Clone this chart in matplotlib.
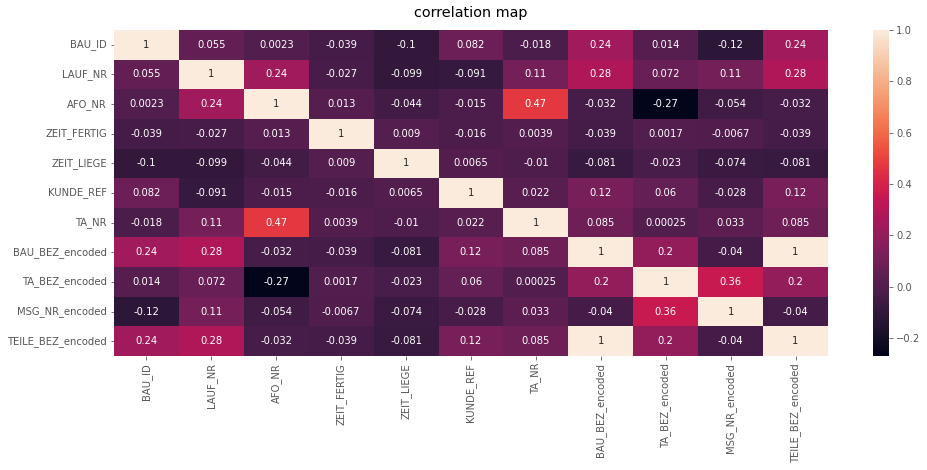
import matplotlib
matplotlib.use('Agg')
import matplotlib.pyplot as plt
import seaborn as sns
import pandas as pd

plt.style.use('ggplot')

labels = ['BAU_ID', 'LAUF_NR', 'AFO_NR', 'ZEIT_FERTIG', 'ZEIT_LIEGE', 'KUNDE_REF', 'TA_NR',
          'BAU_BEZ_encoded', 'TA_BEZ_encoded', 'MSG_NR_encoded', 'TEILE_BEZ_encoded']

bau_id = [1, 0.055, 0.0023, -0.039, -0.1, 0.082, -0.018, 0.24, 0.014, -0.12, 0.24]
lauf_nr = [0.055, 1, 0.24, -0.027, -0.099, -0.091, 0.11, 0.28, 0.072, 0.11, 0.28]
afo_nr = [0.0023, 0.24, 1, 0.013, -0.044, -0.015, 0.47, -0.032, -0.27, -0.054, -0.032]
zeit_fertig = [-0.039, -0.027, 0.013, 1, 0.009, -0.016, 0.0039, -0.039, 0.0017, -0.0067, -0.039]
zeit_liege = [-0.1, -0.099, -0.044, 0.009, 1, 0.0065, -0.01, -0.081, -0.023, -0.074, -0.081]
kunde_ref = [0.082, -0.091, -0.015, -0.016, 0.0065, 1, 0.022, 0.12, 0.06, -0.028, 0.12]
ta_nr = [-0.018, 0.11, 0.47, 0.0039, -0.01, 0.022, 1, 0.085, 0.00025, 0.033, 0.085]
bau_bez = [0.24, 0.28, -0.032, -0.039, -0.081, 0.12, 0.085, 1, 0.2, -0.04, 1]
ta_bez = [0.014, 0.072, -0.27, 0.0017, -0.023, 0.06, 0.00025, 0.2, 1, 0.36, 0.2]
msg_nr = [-0.12, 0.11, -0.054, -0.0067, -0.074, -0.028, 0.033, -0.04, 0.36, 1, -0.04]
teile_bez = [0.24, 0.28, -0.032, -0.039, -0.081, 0.12, 0.085, 1, 0.2, -0.04, 1]

corr = pd.DataFrame([bau_id, lauf_nr, afo_nr, zeit_fertig, zeit_liege, kunde_ref, ta_nr,
                     bau_bez, ta_bez, msg_nr, teile_bez], index=labels, columns=labels)

W, H = 927, 470
fig = plt.figure(figsize=(W / 72, H / 72), dpi=72, facecolor='white')
ax = fig.add_axes([114 / W, 1 - 356 / H, 714 / W, 326 / H])
cax = fig.add_axes([873 / W, 1 - 356 / H, 16 / W, 326 / H])

sns.heatmap(corr, annot=True, ax=ax, cbar_ax=cax, annot_kws={'size': 10})
ax.grid(False)
cax.grid(False)
ax.tick_params(axis='both', labelsize=10, colors='#555555')
cax.tick_params(labelsize=10, colors='#555555')
plt.setp(ax.get_xticklabels(), rotation=90)
plt.setp(ax.get_yticklabels(), rotation=0)

fig.text(470.5 / W, 1 - 13 / H, 'correlation map', ha='center', va='center', fontsize=14.4, color='black')

fig.savefig('out.png', dpi=72)
